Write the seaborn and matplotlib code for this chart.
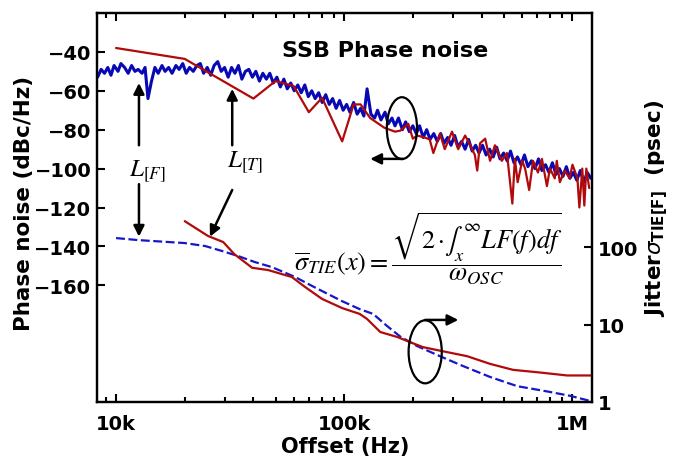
import matplotlib
matplotlib.use('Agg')
import matplotlib.pyplot as plt
import seaborn as sns
from matplotlib.patches import Ellipse
from matplotlib.ticker import FixedLocator, FixedFormatter, NullFormatter, NullLocator, LogLocator

# measured SSB phase noise L[F]  (offset in kHz, dBc/Hz)
pn_meas_khz = [8.3, 8.6, 8.9, 9.2, 9.5, 9.8, 10.2, 10.5, 10.9, 11.3,
               11.7, 12.1, 12.5, 13.0, 13.4, 13.8, 14.3, 14.8, 15.3, 15.9,
               16.4, 17.0, 17.6, 18.3, 18.9, 19.6, 20.3, 21.0, 21.8, 22.6,
               23.4, 24.2, 25.1, 26.0, 26.9, 27.9, 28.9, 29.9, 31.0, 32.1,
               33.2, 34.4, 35.6, 36.9, 38.2, 39.6, 41.0, 42.5, 44.0, 45.6,
               47.2, 48.9, 50.7, 52.5, 54.4, 56.3, 58.3, 60.4, 62.6, 64.8,
               67.2, 69.6, 72.1, 74.6, 77.3, 80.1, 83.0, 86.0, 89.0, 92.2,
               95.5, 99.0, 102.5, 106, 110, 114, 118, 122, 126, 131,
               136, 140, 145, 151, 156, 162, 167, 173, 180, 186,
               193, 200, 207, 214, 222, 230, 238, 247, 256, 265,
               274, 284, 294, 305, 316, 327, 339, 351, 364, 377,
               390, 404, 419, 434, 450, 466, 482, 500, 518, 536,
               555, 575, 596, 617, 639, 662, 686, 711, 736, 763,
               790, 818, 848, 878, 910, 942, 976, 1010, 1047, 1084,
               1123, 1163, 1205]
pn_meas_db = [-53, -49, -51, -48, -52, -47, -50, -46, -48, -51,
              -47, -50, -49, -51, -48, -64, -55, -48, -51, -47,
              -50, -48, -51, -47, -49, -46, -51, -48, -50, -47,
              -46, -51, -48, -52, -47, -45, -50, -48, -53, -48,
              -51, -47, -54, -50, -49, -53, -50, -55, -51, -54,
              -51, -56, -53, -58, -54, -59, -56, -60, -57, -61,
              -57, -63, -60, -64, -61, -66, -62, -67, -64, -69,
              -65, -70, -67, -71, -66, -72, -69, -73, -59, -72,
              -74, -70, -75, -71, -77, -74, -78, -74, -80, -76,
              -81, -78, -82, -78, -84, -80, -85, -82, -86, -82,
              -87, -84, -88, -83, -89, -86, -90, -85, -91, -88,
              -92, -88, -93, -90, -94, -89, -95, -92, -96, -91,
              -97, -94, -98, -93, -99, -96, -100, -95, -101, -98,
              -102, -97, -103, -100, -104, -99, -105, -102, -106, -101,
              -107, -102, -105]

# phase noise from the time-domain method L[T]
pn_time_khz = [10, 20, 40, 50, 60, 70, 80, 98, 110, 118,
               130, 150, 167, 176, 191, 200, 209, 225, 237, 246,
               263, 276, 297, 316, 339, 357, 374, 383, 394, 415,
               436, 458, 491, 517, 546, 560, 576, 603, 621, 647,
               673, 707, 736, 774, 798, 838, 855, 882, 926, 973,
               1002, 1053, 1074, 1106, 1129, 1152, 1186]
pn_time_db = [-38, -43.6, -64, -55, -57.5, -71, -63.6, -86, -67, -67,
              -74, -79, -81, -80.5, -77, -84.6, -83, -84, -85, -92,
              -82, -90, -81, -90, -83, -88, -93, -101, -87, -84.6,
              -96, -88, -96, -92, -118, -95, -107, -96, -100, -111,
              -96, -102, -95, -109, -100, -105, -96, -107, -101, -105,
              -98, -105, -120, -100, -119, -100, -110]

# integrated jitter sigma_TIE (psec)
jit_f_khz = [10, 12.5, 20, 24.6, 29.2, 34.3, 40.6, 48.3, 61, 72.4,
             85, 98, 117, 134, 154, 176, 208, 263, 333, 437,
             574, 775, 980, 1200]
jit_f_ps = [130.6, 123, 112.6, 103, 88.8, 76.5, 64, 55, 41, 31.4,
            24.7, 20, 15.8, 13.7, 9.6, 7.0, 5.3, 3.9, 2.9, 2.1,
            1.6, 1.37, 1.2, 1.03]
jit_t_khz = [20, 25.3, 29.5, 33, 39.5, 46.4, 59, 67.4, 80, 98,
             117, 126, 144, 171, 195, 222, 263, 346, 437, 550,
             724, 950, 1220]
jit_t_ps = [216, 139, 116, 81, 54, 50.5, 41, 30.5, 21.4, 16.3,
            13.7, 11.8, 8.0, 6.9, 5.9, 5.1, 4.6, 3.9, 3.1, 2.6,
            2.4, 2.2, 2.2]

BLUE = '#0808b4'
BLUE2 = '#1616cc'
RED = '#b00a0a'

sns.set_style('ticks')
plt.rcParams['font.family'] = ['DejaVu Sans']
for key in ('text.color', 'axes.labelcolor', 'xtick.color', 'ytick.color', 'axes.edgecolor'):
    plt.rcParams[key] = 'black'

fig = plt.figure(figsize=(6.75, 4.64), dpi=100)
ax = fig.add_axes([97 / 675, 1 - 403 / 464, 495 / 675, 389 / 464])
ax2 = ax.twinx()

k = 1000.0
sns.lineplot(x=[f * k for f in pn_meas_khz], y=pn_meas_db, ax=ax, color=BLUE,
             lw=2.2, sort=False, estimator=None)
sns.lineplot(x=[f * k for f in pn_time_khz], y=pn_time_db, ax=ax, color=RED,
             lw=1.6, sort=False, estimator=None)
sns.lineplot(x=[f * k for f in jit_f_khz], y=jit_f_ps, ax=ax2, color=BLUE2,
             lw=1.6, ls=(0, (4, 1.6)), sort=False, estimator=None)
sns.lineplot(x=[f * k for f in jit_t_khz], y=jit_t_ps, ax=ax2, color=RED,
             lw=1.6, sort=False, estimator=None)

ax.set_xscale('log')
ax.set_xlim(8.25e3, 1.22e6)
ax.set_ylim(-220, -20)
ax2.set_yscale('log')
ax2.set_ylim(1, 1.05e5)

ax.xaxis.set_major_locator(FixedLocator([1e4, 1e5, 1e6]))
ax.xaxis.set_major_formatter(FixedFormatter(['10k', '100k', '1M']))
ax.xaxis.set_minor_locator(LogLocator(subs=range(2, 10)))
ax.xaxis.set_minor_formatter(NullFormatter())
ax.set_yticks([-40, -60, -80, -100, -120, -140, -160])
ax2.yaxis.set_major_locator(FixedLocator([1, 10, 100]))
ax2.yaxis.set_major_formatter(FixedFormatter(['1', '10', '100']))
ax2.yaxis.set_minor_locator(NullLocator())

ax.tick_params(axis='x', which='both', direction='in', top=True, width=1.5,
               labelsize=14, pad=9)
ax.tick_params(axis='x', which='major', length=6)
ax.tick_params(axis='x', which='minor', length=3.5)
ax.tick_params(axis='y', direction='in', length=6, width=1.5, labelsize=14, pad=4)
ax2.tick_params(axis='y', direction='in', length=6, width=1.5, labelsize=14, pad=4)
for a in (ax, ax2):
    for s in a.spines.values():
        s.set_linewidth(1.6)
        s.set_color('black')
    for lab in a.get_xticklabels() + a.get_yticklabels():
        lab.set_fontweight('bold')
ax.set_xlabel('')
ax.set_ylabel('')
ax2.set_ylabel('')

fig.text(24 / 675, 1 - 203 / 464, 'Phase noise (dBc/Hz)', rotation=90,
         ha='center', va='center', fontsize=15.5, fontweight='bold')
fig.text(657 / 675, 1 - 208 / 464, r'Jitter$\sigma_{\mathbf{TIE[F]}}$  (psec)',
         rotation=90, ha='center', va='center', fontsize=15.5, fontweight='bold')
fig.text(345 / 675, 1 - 447 / 464, 'Offset (Hz)', ha='center', va='center',
         fontsize=15, fontweight='bold')
fig.text(385 / 675, 1 - 51 / 464, 'SSB Phase noise', ha='center', va='center',
         fontsize=16, fontweight='bold')

# formula and curve labels (serif math, regular weight)
formula = (r'$\overline{\sigma}_{TIE}(x)=\dfrac{\sqrt{2\,' + '\u00b7'
           + r'\int_x^{\infty}LF(f)df}}{\omega_{OSC}}$')
fig.text(428 / 675, 1 - 249 / 464, formula, ha='center', va='center',
         fontsize=19, math_fontfamily='stix')
ax.text(13.8e3, -101, r'$L_{[F]}$', ha='center', va='center', fontsize=18,
        math_fontfamily='stix')
ax.text(36.8e3, -96.5, r'$L_{[T]}$', ha='center', va='center', fontsize=18,
        math_fontfamily='stix')

arrow = dict(arrowstyle='-|>', color='k', lw=1.8, mutation_scale=16,
             shrinkA=0, shrinkB=0)
ax.annotate('', xy=(12.6e3, -56), xytext=(12.6e3, -88), arrowprops=arrow)
ax.annotate('', xy=(12.6e3, -135), xytext=(12.6e3, -108), arrowprops=arrow)
ax.annotate('', xy=(32.3e3, -59), xytext=(32.3e3, -88), arrowprops=arrow)
ax.annotate('', xy=(25.8e3, -135), xytext=(32.3e3, -111), arrowprops=arrow)

# ellipses marking which axis each pair of curves belongs to
ax2.add_patch(Ellipse((0.616, 0.704), 0.061, 0.159, transform=ax.transAxes,
                      fill=False, ec='k', lw=1.6, zorder=5))
ax2.annotate('', xy=(0.552, 0.625), xytext=(0.618, 0.625), xycoords='axes fraction',
             arrowprops=arrow)
ax2.add_patch(Ellipse((0.663, 0.129), 0.067, 0.162, transform=ax.transAxes,
                      fill=False, ec='k', lw=1.6, zorder=5))
ax2.annotate('', xy=(0.73, 0.211), xytext=(0.663, 0.211), xycoords='axes fraction',
             arrowprops=arrow)

fig.savefig('out.png', dpi=100)
